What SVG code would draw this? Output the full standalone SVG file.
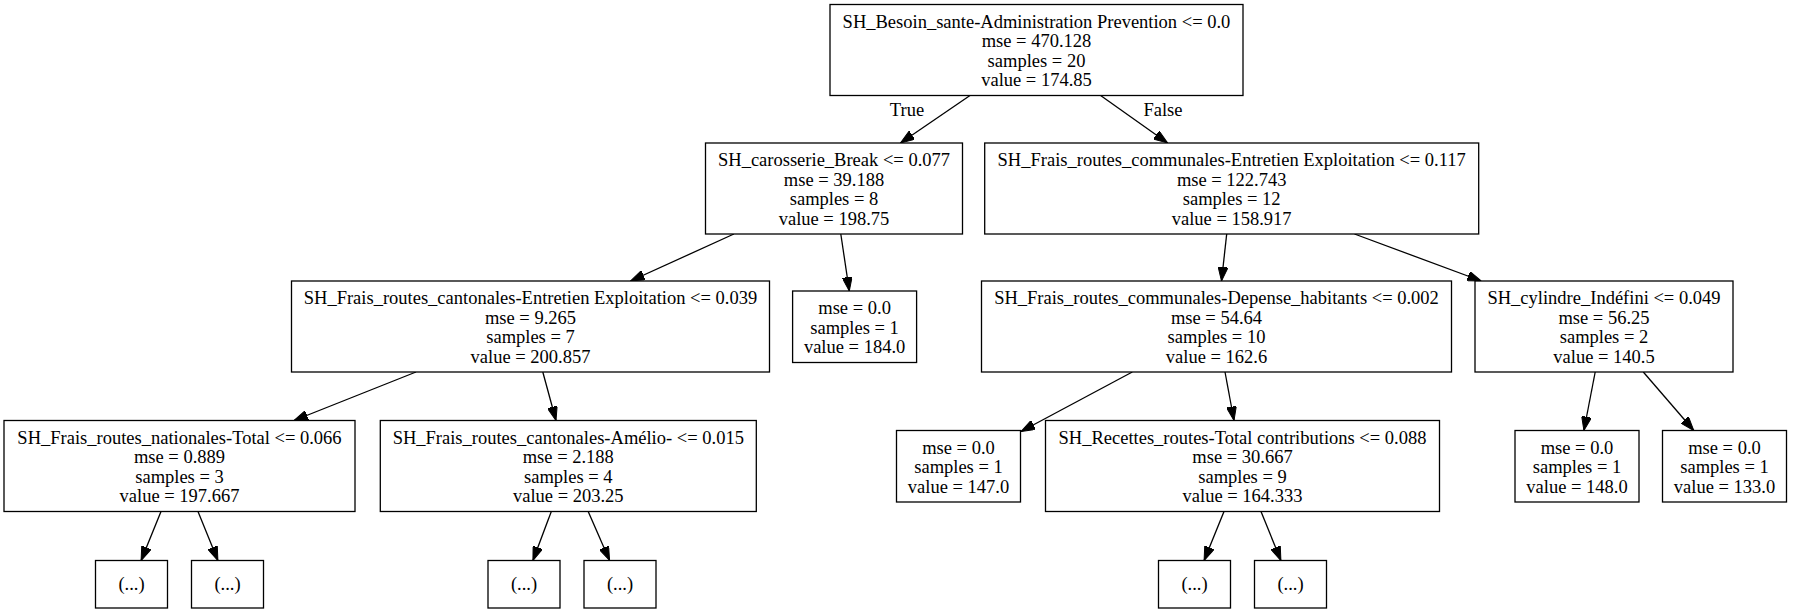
<svg xmlns="http://www.w3.org/2000/svg" width="1795" height="613" viewBox="0 0 1795 613">
<style>
  .box { fill: #ffffff; stroke: #000000; stroke-width: 1.3; }
  .t { font-family: "Liberation Serif", "Times New Roman", serif; font-size: 18.5px; fill: #000000; text-anchor: middle; }
  .edge { stroke: #000000; stroke-width: 1.3; fill: none; marker-end: url(#arrow); }
</style>
<defs>
  <marker id="arrow" viewBox="0 0 14 10" refX="14" refY="5" markerWidth="14" markerHeight="10" markerUnits="userSpaceOnUse" orient="auto">
    <path d="M0,0 L14,5 L0,10 z" fill="#000000" stroke="#000000" stroke-width="1"/>
  </marker>
</defs>
<rect x="0" y="0" width="1795" height="613" fill="#ffffff"/>

<g id="connectors">
  <line class="edge" x1="970" y1="95.5" x2="900.5" y2="143"/>
  <line class="edge" x1="1100.6" y1="95.5" x2="1167.6" y2="143"/>
  <line class="edge" x1="733.9" y1="234" x2="630.6" y2="281"/>
  <line class="edge" x1="840.8" y1="234" x2="849.3" y2="291"/>
  <line class="edge" x1="1226.7" y1="234" x2="1221.5" y2="281"/>
  <line class="edge" x1="1354.5" y1="234" x2="1481.3" y2="281"/>
  <line class="edge" x1="416" y1="372" x2="294" y2="420.5"/>
  <line class="edge" x1="542.8" y1="372" x2="556" y2="420.5"/>
  <line class="edge" x1="1132.3" y1="372" x2="1021" y2="431.5"/>
  <line class="edge" x1="1225" y1="372" x2="1234" y2="420.5"/>
  <line class="edge" x1="1595.2" y1="372" x2="1583.9" y2="430.5"/>
  <line class="edge" x1="1643.3" y1="372" x2="1693.8" y2="430.5"/>
  <line class="edge" x1="161" y1="511.5" x2="141.1" y2="560.5"/>
  <line class="edge" x1="198" y1="511.5" x2="217.9" y2="560.5"/>
  <line class="edge" x1="551.3" y1="511.5" x2="532.9" y2="560.5"/>
  <line class="edge" x1="588.2" y1="511.5" x2="609.6" y2="560.5"/>
  <line class="edge" x1="1224" y1="511.5" x2="1204.1" y2="560.5"/>
  <line class="edge" x1="1261" y1="511.5" x2="1280.9" y2="560.5"/>
  <text class="t" x="907" y="116">True</text>
  <text class="t" x="1163" y="116">False</text>
</g>

<g id="node0">
  <rect class="box" x="830" y="4.5" width="413" height="91"/>
  <text class="t"><tspan x="1036.5" y="27.5">SH_Besoin_sante-Administration Prevention &lt;= 0.0</tspan><tspan x="1036.5" y="47">mse = 470.128</tspan><tspan x="1036.5" y="66.5">samples = 20</tspan><tspan x="1036.5" y="86">value = 174.85</tspan></text>
</g>

<g id="node1">
  <rect class="box" x="705.5" y="143" width="257" height="91"/>
  <text class="t"><tspan x="834" y="166">SH_carosserie_Break &lt;= 0.077</tspan><tspan x="834" y="185.5">mse = 39.188</tspan><tspan x="834" y="205">samples = 8</tspan><tspan x="834" y="224.5">value = 198.75</tspan></text>
</g>

<g id="node2">
  <rect class="box" x="984.7" y="143" width="494" height="91"/>
  <text class="t"><tspan x="1231.7" y="166">SH_Frais_routes_communales-Entretien Exploitation &lt;= 0.117</tspan><tspan x="1231.7" y="185.5">mse = 122.743</tspan><tspan x="1231.7" y="205">samples = 12</tspan><tspan x="1231.7" y="224.5">value = 158.917</tspan></text>
</g>

<g id="node3">
  <rect class="box" x="291.5" y="281" width="478" height="91"/>
  <text class="t"><tspan x="530.5" y="304">SH_Frais_routes_cantonales-Entretien Exploitation &lt;= 0.039</tspan><tspan x="530.5" y="323.5">mse = 9.265</tspan><tspan x="530.5" y="343">samples = 7</tspan><tspan x="530.5" y="362.5">value = 200.857</tspan></text>
</g>

<g id="node4">
  <rect class="box" x="792.6" y="291" width="124" height="71.5"/>
  <text class="t"><tspan x="854.6" y="314">mse = 0.0</tspan><tspan x="854.6" y="333.5">samples = 1</tspan><tspan x="854.6" y="353">value = 184.0</tspan></text>
</g>

<g id="node5">
  <rect class="box" x="981.5" y="281" width="470" height="91"/>
  <text class="t"><tspan x="1216.5" y="304">SH_Frais_routes_communales-Depense_habitants &lt;= 0.002</tspan><tspan x="1216.5" y="323.5">mse = 54.64</tspan><tspan x="1216.5" y="343">samples = 10</tspan><tspan x="1216.5" y="362.5">value = 162.6</tspan></text>
</g>

<g id="node6">
  <rect class="box" x="1475" y="281" width="258" height="91"/>
  <text class="t"><tspan x="1604" y="304">SH_cylindre_Indéfini &lt;= 0.049</tspan><tspan x="1604" y="323.5">mse = 56.25</tspan><tspan x="1604" y="343">samples = 2</tspan><tspan x="1604" y="362.5">value = 140.5</tspan></text>
</g>

<g id="node7">
  <rect class="box" x="4" y="420.5" width="351" height="91"/>
  <text class="t"><tspan x="179.5" y="443.5">SH_Frais_routes_nationales-Total &lt;= 0.066</tspan><tspan x="179.5" y="463">mse = 0.889</tspan><tspan x="179.5" y="482.5">samples = 3</tspan><tspan x="179.5" y="502">value = 197.667</tspan></text>
</g>

<g id="node8">
  <rect class="box" x="380.3" y="420.5" width="376" height="91"/>
  <text class="t"><tspan x="568.3" y="443.5">SH_Frais_routes_cantonales-Amélio- &lt;= 0.015</tspan><tspan x="568.3" y="463">mse = 2.188</tspan><tspan x="568.3" y="482.5">samples = 4</tspan><tspan x="568.3" y="502">value = 203.25</tspan></text>
</g>

<g id="node9">
  <rect class="box" x="896.5" y="430.5" width="124" height="71.5"/>
  <text class="t"><tspan x="958.5" y="453.5">mse = 0.0</tspan><tspan x="958.5" y="473">samples = 1</tspan><tspan x="958.5" y="492.5">value = 147.0</tspan></text>
</g>

<g id="node10">
  <rect class="box" x="1045.5" y="420.5" width="394" height="91"/>
  <text class="t"><tspan x="1242.5" y="443.5">SH_Recettes_routes-Total contributions &lt;= 0.088</tspan><tspan x="1242.5" y="463">mse = 30.667</tspan><tspan x="1242.5" y="482.5">samples = 9</tspan><tspan x="1242.5" y="502">value = 164.333</tspan></text>
</g>

<g id="node11">
  <rect class="box" x="1515" y="430.5" width="124" height="71.5"/>
  <text class="t"><tspan x="1577" y="453.5">mse = 0.0</tspan><tspan x="1577" y="473">samples = 1</tspan><tspan x="1577" y="492.5">value = 148.0</tspan></text>
</g>

<g id="node12">
  <rect class="box" x="1662.5" y="430.5" width="124" height="71.5"/>
  <text class="t"><tspan x="1724.5" y="453.5">mse = 0.0</tspan><tspan x="1724.5" y="473">samples = 1</tspan><tspan x="1724.5" y="492.5">value = 133.0</tspan></text>
</g>

<g id="node13">
  <rect class="box" x="95.5" y="560.5" width="72" height="47.5"/>
  <text class="t" x="131.5" y="590">(...)</text>
</g>
<g id="node14">
  <rect class="box" x="191.5" y="560.5" width="72" height="47.5"/>
  <text class="t" x="227.5" y="590">(...)</text>
</g>
<g id="node15">
  <rect class="box" x="488" y="560.5" width="72" height="47.5"/>
  <text class="t" x="524" y="590">(...)</text>
</g>
<g id="node16">
  <rect class="box" x="584" y="560.5" width="72" height="47.5"/>
  <text class="t" x="620" y="590">(...)</text>
</g>
<g id="node17">
  <rect class="box" x="1158.5" y="560.5" width="72" height="47.5"/>
  <text class="t" x="1194.5" y="590">(...)</text>
</g>
<g id="node18">
  <rect class="box" x="1254.5" y="560.5" width="72" height="47.5"/>
  <text class="t" x="1290.5" y="590">(...)</text>
</g>
</svg>
